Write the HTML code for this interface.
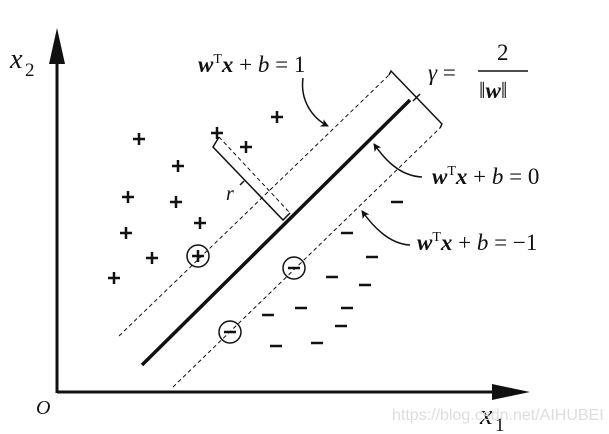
<!DOCTYPE html>
<html><head><style>
html,body{margin:0;padding:0;background:#fff;}
svg{display:block;}
text{font-family:'Liberation Serif','DejaVu Serif',serif;fill:#111;}
.b{font-weight:bold;font-style:italic;}
.i{font-style:italic;}
</style></head><body>
<svg width="609" height="434" viewBox="0 0 609 434" xmlns="http://www.w3.org/2000/svg" font-family="Liberation Serif, serif">
<defs>
<marker id="ah" markerWidth="8" markerHeight="8" refX="7" refY="4" orient="auto" markerUnits="userSpaceOnUse"><path d="M0,0 L8,4 L0,8 L2,4 Z" fill="#111"/></marker>
</defs>
<g stroke="#111" fill="none">
<line x1="57" y1="393" x2="57" y2="50" stroke-width="3"/>
<polygon points="57,28 49,64 65,64" fill="#111" stroke="none"/>
<line x1="57" y1="392" x2="505" y2="392" stroke-width="3"/>
<polygon points="530,392 492,384 492,400" fill="#111" stroke="none"/>
<line x1="142" y1="365" x2="410" y2="100" stroke-width="3.5"/>
<line x1="119" y1="336" x2="389" y2="75" stroke-width="1" stroke-dasharray="4,3"/>
<line x1="173" y1="387" x2="440" y2="128" stroke-width="1" stroke-dasharray="4,3"/>
<line x1="219" y1="137" x2="290" y2="213" stroke-width="1" stroke-dasharray="4,3"/>
<path d="M389,75 L391,71 L442,124 L440,128" stroke-width="1.5"/>
<path d="M416,98 L420,94 M416,98 L413,101" stroke-width="1.5"/>
<path d="M219,137 L213,147 L283,220 L290,213" stroke-width="1.5"/>
<path d="M240,185 L244,181" stroke-width="1.5"/>
<path d="M303,78 C300,100 312,118 328,126" stroke-width="1.5" marker-end="url(#ah)"/>
<path d="M422,177 C400,176 385,160 374,144" stroke-width="1.5" marker-end="url(#ah)"/>
<path d="M410,245 C390,244 374,228 362,211" stroke-width="1.5" marker-end="url(#ah)"/>
<circle cx="198" cy="256" r="11" stroke-width="1.5"/>
<circle cx="294" cy="268" r="11" stroke-width="1.5"/>
<circle cx="230" cy="332" r="11" stroke-width="1.5"/>
</g>
<g stroke="#111" stroke-width="2.5">
<path d="M271,117h12M277,111v12"/><path d="M211,133h12M217,127v12"/><path d="M133,139h12M139,133v12"/>
<path d="M240,147h12M246,141v12"/><path d="M172,166h12M178,160v12"/><path d="M122,197h12M128,191v12"/>
<path d="M170,202h12M176,196v12"/><path d="M194,223h12M200,217v12"/><path d="M120,233h12M126,227v12"/>
<path d="M146,258h12M152,252v12"/><path d="M108,278h12M114,272v12"/><path d="M192,256h12M198,250v12"/>
<path d="M391,202h12M341,233h12M366,257h12M326,277h12M359,285h12M295,308h12M341,308h12M262,315h12M335,326h12M270,346h12M311,343h12M288,268h12M224,332h12"/>
</g>
<text x="10" y="68" font-size="28" class="i">x</text><text x="25" y="76" font-size="19">2</text>
<text x="36" y="414" font-size="20" class="i">O</text>
<text x="480" y="424" font-size="28" class="i">x</text><text x="495" y="431" font-size="19">1</text>
<text x="226" y="200" font-size="20" class="i">r</text>
<text x="198" y="72" font-size="23"><tspan class="b">w</tspan><tspan font-size="14" dy="-9">T</tspan><tspan class="b" dy="9">x</tspan> + <tspan class="i">b</tspan> = 1</text>
<text x="432" y="184" font-size="23"><tspan class="b">w</tspan><tspan font-size="14" dy="-9">T</tspan><tspan class="b" dy="9">x</tspan> + <tspan class="i">b</tspan> = 0</text>
<text x="417" y="250" font-size="23"><tspan class="b">w</tspan><tspan font-size="14" dy="-9">T</tspan><tspan class="b" dy="9">x</tspan> + <tspan class="i">b</tspan> = −1</text>
<text x="428" y="80" font-size="23"><tspan class="i">γ</tspan> =</text>
<text x="497" y="60" font-size="23">2</text>
<line x1="478" y1="71" x2="528" y2="71" stroke="#111" stroke-width="1.5"/>
<text x="479" y="98" font-size="23">‖<tspan class="b">w</tspan>‖</text>
<text x="392" y="420" font-size="16" style="font-family:'Liberation Sans',sans-serif;fill:#ddd">https://blog.csdn.net/AIHUBEI</text>
</svg>
</body></html>
